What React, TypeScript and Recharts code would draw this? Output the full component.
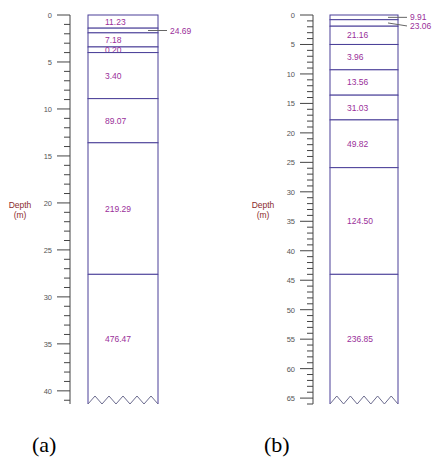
import React from 'react'
import { BarChart, Bar, XAxis, YAxis } from 'recharts'

// layer boundaries (m) and resistivity of each layer (ohm.m)
const depthsA = [0, 1.4, 1.9, 3.4, 4.0, 8.9, 13.6, 27.6, 41.4]
const rhoA = [11.23, 24.69, 7.18, 0.2, 3.4, 89.07, 219.29, 476.47]

const depthsB = [0, 0.8, 1.9, 5.0, 9.3, 13.6, 17.8, 25.9, 44.0, 66]
const rhoB = [9.91, 23.06, 21.16, 3.96, 13.56, 31.03, 49.82, 124.5, 236.85]

const LINE = '#4a3f98'
const TXT = '#9a2f9a'
const FONT = 'Arial, "Liberation Sans", sans-serif'
const SERIF = '"Liberation Serif", "Times New Roman", serif'

const DepthTick = ({ x, y, payload }: any) => {
  const major = payload.value % 5 === 0
  return (
    <g>
      <line x1={x - (major ? 13 : 6)} x2={x} y1={y} y2={y} stroke="#444" strokeWidth={1} />
      {major && (
        <text x={x - 18} y={y} dy={3} textAnchor="end" fontSize={7.5} fill="#555" fontFamily={FONT}>
          {payload.value}
        </text>
      )}
    </g>
  )
}

const DepthLabel = ({ viewBox }: any) => {
  const cx = viewBox.x + viewBox.width - 50
  const cy = viewBox.y + viewBox.height / 2
  return (
    <g fontFamily={FONT} fontSize={8.5} fill="#8b2c2c" textAnchor="middle">
      <text x={cx} y={cy - 2}>Depth</text>
      <text x={cx} y={cy + 8}>(m)</text>
    </g>
  )
}

const LayerShape = ({ x, y, width, height, text, last, callout }: any) => {
  // the depth axis is reversed, so height comes in negative
  const top = Math.min(y, y + height)
  const bottom = Math.max(y, y + height)
  let body
  if (last) {
    const n = 5
    const step = width / n
    let zig = `M${x},${bottom}`
    for (let i = 0; i < n; i++) {
      zig += ` L${x + step * i + step / 2},${bottom - 8} L${x + step * (i + 1)},${bottom}`
    }
    body = (
      <g>
        <path d={`M${x},${top} ${zig.replace('M', 'L')} L${x + width},${top} Z`} fill="#fff" stroke="none" />
        <line x1={x} x2={x} y1={top} y2={bottom} stroke={LINE} />
        <line x1={x + width} x2={x + width} y1={top} y2={bottom} stroke={LINE} />
        <line x1={x} x2={x + width} y1={top} y2={top} stroke={LINE} />
        <path d={zig} fill="none" stroke="#6b6b8e" />
      </g>
    )
  } else {
    body = <rect x={x} y={top} width={width} height={bottom - top} fill="#fff" stroke={LINE} strokeWidth={1} />
  }
  const cy = (top + bottom) / 2
  let label
  if (callout !== undefined) {
    label = (
      <g>
        <line x1={x + width - 10} y1={cy} x2={x + width + 9} y2={cy + callout} stroke="#666" />
        <text x={x + width + 12} y={cy + callout} dy={3} fontSize={8.5} fill={TXT} fontFamily={FONT}>{text}</text>
      </g>
    )
  } else {
    label = (
      <text x={x + 17} y={cy} dy={3} fontSize={8.5} fill={TXT} fontFamily={FONT}>{text}</text>
    )
  }
  return <g>{body}{label}</g>
}

const LogChart = ({ depths, rho, callouts, width, axisWidth, barSize, right }: any) => {
  const maxDepth = depths[depths.length - 1]
  const row: any = { name: 'log' }
  rho.forEach((_: number, i: number) => { row['l' + i] = depths[i + 1] - depths[i] })
  const ticks: number[] = []
  for (let d = 0; d <= Math.floor(maxDepth); d++) ticks.push(d)
  return (
    <BarChart width={width} height={459} data={[row]} margin={{ top: 15, right, left: 0, bottom: 55 }}>
      <XAxis dataKey="name" hide />
      <YAxis
        type="number"
        reversed
        domain={[0, maxDepth]}
        ticks={ticks}
        interval={0}
        width={axisWidth}
        tickSize={0}
        tickMargin={0}
        tickLine={false}
        axisLine={{ stroke: '#444' }}
        tick={<DepthTick />}
        label={<DepthLabel />}
      />
      {rho.map((v: number, i: number) => (
        <Bar
          key={i}
          dataKey={'l' + i}
          stackId="s"
          barSize={barSize}
          isAnimationActive={false}
          shape={(p: any) => (
            <LayerShape {...p} text={v.toFixed(2)} last={i === rho.length - 1} callout={callouts[i]} />
          )}
        />
      ))}
    </BarChart>
  )
}

export default function App() {
  return (
    <div style={{ position: 'absolute', left: 0, top: 0, width: 435, height: 459, background: '#fff' }}>
      <div style={{ position: 'absolute', left: 0, top: 0 }}>
        <LogChart depths={depthsA} rho={rhoA} callouts={{ 1: 0 }}
          width={215} axisWidth={70} barSize={70} right={39} />
      </div>
      <div style={{ position: 'absolute', left: 217, top: 0 }}>
        <LogChart depths={depthsB} rho={rhoB} callouts={{ 0: 0, 1: 3 }}
          width={218} axisWidth={96} barSize={68} right={20} />
      </div>
      <div style={{ position: 'absolute', left: 32, top: 432, fontFamily: SERIF, fontSize: 22 }}>(a)</div>
      <div style={{ position: 'absolute', left: 264, top: 432, fontFamily: SERIF, fontSize: 22 }}>(b)</div>
    </div>
  )
}
